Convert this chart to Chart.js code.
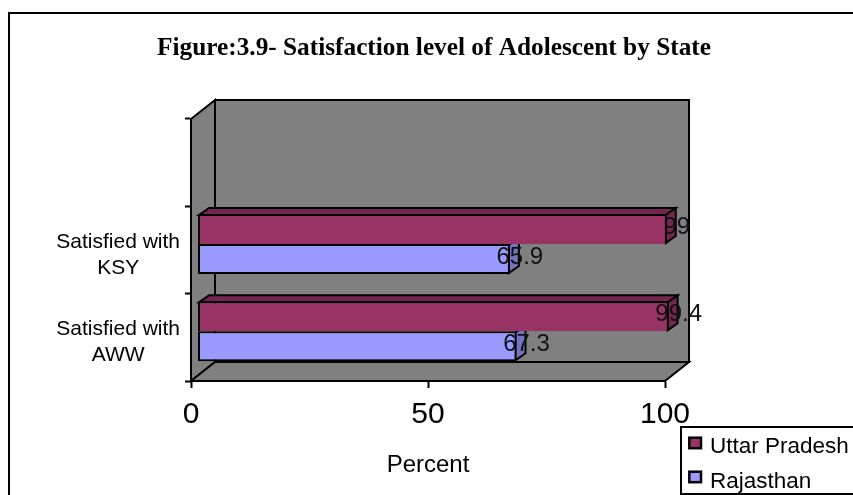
<!DOCTYPE html>
<html>
<head>
<meta charset="utf-8">
<style>
html,body{margin:0;padding:0;background:#fff;overflow:hidden}
#wrap{position:absolute;left:0;top:0;width:853px;height:495px}
</style>
<script src="https://cdn.jsdelivr.net/npm/chart.js@4"></script>
</head>
<body>
<div id="wrap"><canvas id="c" width="853" height="495"></canvas></div>
<script>
const categories = ['', ['Satisfied with', 'KSY'], ['Satisfied with', 'AWW']];
const uttarPradesh = [null, 99, 99.4];
const rajasthan = [null, 65.9, 67.3];
const seriesNames = ['Uttar Pradesh', 'Rajasthan'];
const seriesColors = ['#993366', '#9999FF'];
const seriesShades = ['#732650', '#7373BF'];
const xTicks = [0, 50, 100];

const SANS = '"Liberation Sans", Arial, sans-serif';
const SERIF = '"Liberation Serif", "Times New Roman", serif';

// Depth of the box behind the plot, and of each bar
const WALL = {dx: 24, dy: 19};
const BAR = {dx: 10, dy: 7, shiftX: 6.5, shiftY: -6};

function poly(ctx, pts, fill) {
  ctx.beginPath();
  pts.forEach((p, i) => i ? ctx.lineTo(p[0], p[1]) : ctx.moveTo(p[0], p[1]));
  ctx.closePath();
  if (fill) { ctx.fillStyle = fill; ctx.fill(); }
  ctx.lineWidth = 2;
  ctx.strokeStyle = '#000';
  ctx.lineJoin = 'miter';
  ctx.stroke();
}

const box3d = {
  id: 'box3d',
  afterLayout(chart) {
    // The heading is centred on the whole frame, not on the plot
    chart.titleBlock.left = 15;
    chart.titleBlock.right = 853;
  },
  beforeDraw(chart) {
    const {ctx, chartArea: a} = chart;
    ctx.save();
    ctx.strokeStyle = '#000';
    ctx.lineWidth = 2;
    ctx.strokeRect(9, 13, 870, 500);
    const bx = a.left + WALL.dx, by = a.top - WALL.dy;
    const rx = a.right + WALL.dx, ry = a.bottom - WALL.dy;
    poly(ctx, [[a.left, a.top], [bx, by], [bx, ry], [a.left, a.bottom]], '#808080');
    poly(ctx, [[a.left, a.bottom], [bx, ry], [rx, ry], [a.right, a.bottom]], '#808080');
    poly(ctx, [[bx, by], [rx, by], [rx, ry], [bx, ry]], '#808080');
    ctx.restore();
  },
  beforeDatasetsDraw(chart) {
    const ctx = chart.ctx;
    ctx.save();
    ctx.translate(BAR.shiftX, BAR.shiftY);
    // Top and end faces sit behind the front faces the library draws
    chart.data.datasets.forEach((ds, i) => {
      chart.getDatasetMeta(i).data.forEach((el, j) => {
        if (ds.data[j] == null) return;
        const p = el.getProps(['x', 'y', 'base', 'height'], true);
        const t = p.y - p.height / 2 + 1, b = p.y + p.height / 2 - 1;
        const x = p.x - 1;
        if (i === 0) {
          poly(ctx, [[p.base + 1, t], [p.base + 1 + BAR.dx, t - BAR.dy], [x + BAR.dx, t - BAR.dy], [x, t]], seriesShades[i]);
        }
        poly(ctx, [[x, t], [x + BAR.dx, t - BAR.dy], [x + BAR.dx, b - BAR.dy], [x, b]], seriesShades[i]);
      });
    });
  },
  afterDatasetsDraw(chart) {
    const ctx = chart.ctx;
    ctx.restore();
    ctx.save();
    ctx.font = '24px ' + SANS;
    ctx.fillStyle = '#111';
    ctx.textAlign = 'center';
    ctx.textBaseline = 'middle';
    chart.data.datasets.forEach((ds, i) => {
      chart.getDatasetMeta(i).data.forEach((el, j) => {
        if (ds.data[j] == null) return;
        const p = el.getProps(['x', 'y'], true);
        ctx.fillText(String(ds.data[j]), p.x + BAR.shiftX + BAR.dx, p.y + BAR.shiftY - 2);
      });
    });
    ctx.restore();
  },
  afterDraw(chart) {
    // Legend box in the lower right corner
    const ctx = chart.ctx;
    ctx.save();
    ctx.fillStyle = '#fff';
    ctx.fillRect(681, 427, 180, 67);
    ctx.strokeStyle = '#000';
    ctx.lineWidth = 2;
    ctx.strokeRect(681, 427, 180, 67);
    ctx.font = '22.5px ' + SANS;
    chart.data.datasets.forEach((ds, i) => {
      ctx.fillStyle = ds.backgroundColor;
      ctx.lineWidth = 2.5;
      ctx.fillRect(689.3, 437.7 + i * 34, 11.7, 10.5);
      ctx.strokeRect(689.3, 437.7 + i * 34, 11.7, 10.5);
      ctx.fillStyle = '#000';
      ctx.fillText(ds.label, 710, 453 + i * 35);
    });
    ctx.restore();
  }
};

new Chart(document.getElementById('c'), {
  type: 'bar',
  plugins: [box3d],
  data: {
    labels: categories,
    datasets: [
      {label: seriesNames[0], data: uttarPradesh, backgroundColor: seriesColors[0], borderColor: '#000', borderWidth: {top: 2, left: 2, right: 2, bottom: 0}, borderSkipped: false, clip: false},
      {label: seriesNames[1], data: rajasthan, backgroundColor: seriesColors[1], borderColor: '#000', borderWidth: 2, borderSkipped: false, clip: false}
    ]
  },
  options: {
    indexAxis: 'y',
    responsive: false,
    animation: false,
    categoryPercentage: 0.687,
    barPercentage: 1,
    layout: {padding: {left: 15, right: 188, top: 0, bottom: 0}},
    plugins: {
      legend: {display: false},
      tooltip: {enabled: false},
      title: {
        display: true,
        text: 'Figure:3.9- Satisfaction level of Adolescent by State',
        color: '#000',
        font: {family: SERIF, size: 25.3, weight: 'bold', lineHeight: 1.2},
        padding: {top: 33.3, bottom: 55.3}
      }
    },
    scales: {
      x: {
        min: 0, max: 100,
        afterBuildTicks(s) { s.ticks = xTicks.map(v => ({value: v})); },
        afterFit(s) { s.height = 114; },
        grid: {drawOnChartArea: false, tickColor: '#000', tickWidth: 2, tickLength: 7},
        border: {color: '#000', width: 2},
        ticks: {color: '#000', maxRotation: 0, font: {family: SANS, size: 30}, padding: 8.5},
        title: {display: true, text: 'Percent', color: '#000', font: {family: SANS, size: 24}, padding: {top: 0, bottom: 15}}
      },
      y: {
        afterFit(s) {
          s.width = 176;
          // Category names sit a little below the middle of their bands
          const items = s._computeLabelItems;
          s._computeLabelItems = function (area) {
            return items.call(s, area).map(it => {
              const [tx, ty] = it.options.translation;
              return {...it, options: {...it.options, translation: [tx, ty + 2.5]}};
            });
          };
        },
        grid: {drawOnChartArea: false, tickColor: '#000', tickWidth: 2, tickLength: 6},
        border: {color: '#000', width: 2},
        ticks: {color: '#000', crossAlign: 'center', autoSkip: false, font: {family: SANS, size: 21, lineHeight: 1.22}, padding: 5}
      }
    }
  }
});
</script>
</body>
</html>
